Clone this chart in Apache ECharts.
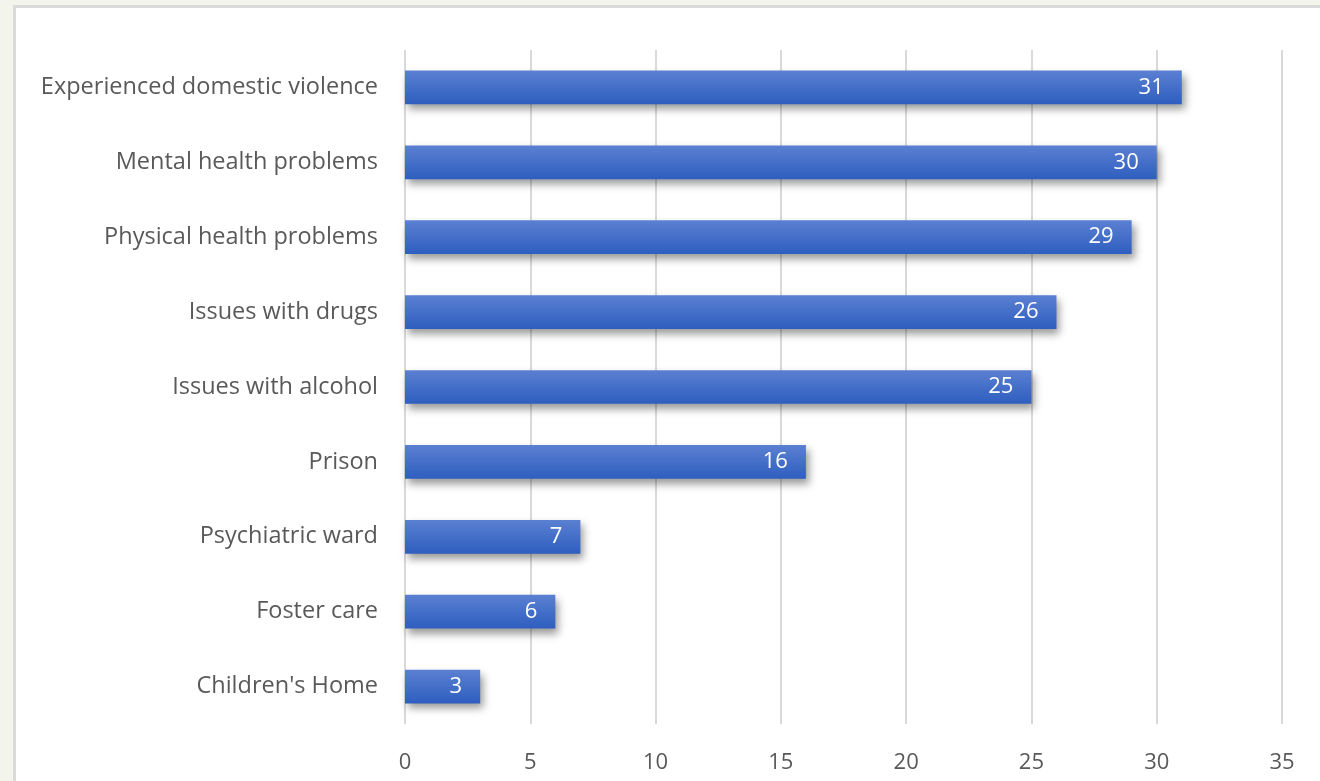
<!DOCTYPE html>
<html>
<head>
<meta charset="utf-8">
<script src="https://cdn.jsdelivr.net/npm/echarts@6/dist/echarts.min.js"></script>
<style>
  html, body { margin: 0; padding: 0; background: #f3f5ec; }
  #panel { position: absolute; left: 13px; top: 5px; width: 1320px; height: 800px;
           background: #fff; border: 3px solid #dadada; box-sizing: border-box; }
  #chart { position: absolute; left: 0; top: 0; width: 1320px; height: 781px; }
</style>
</head>
<body>
<div id="panel"></div>
<div id="chart"></div>
<script>
const categories = [
  "Children's Home", "Foster care", "Psychiatric ward", "Prison",
  "Issues with alcohol", "Issues with drugs", "Physical health problems",
  "Mental health problems", "Experienced domestic violence"
];
const values = [3, 6, 7, 16, 25, 26, 29, 30, 31];
const xTicks = [0, 5, 10, 15, 20, 25, 30, 35];

const chart = echarts.init(document.getElementById("chart"));

const option = {
  animation: false,
  textStyle: { fontFamily: "Open Sans" },
  grid: { left: 405, right: 38, top: 50, bottom: 57 },
  xAxis: {
    type: "value",
    min: xTicks[0],
    max: xTicks[xTicks.length - 1],
    interval: 5,
    axisLine: { show: false },
    axisTick: { show: false },
    splitLine: { lineStyle: { color: "#d9d9d9", width: 2 } },
    axisLabel: { color: "#595959", fontSize: 22, margin: 28 }
  },
  yAxis: {
    type: "category",
    data: categories,
    axisLine: { show: false },
    axisTick: { show: false },
    axisLabel: { color: "#595959", fontSize: 23.5, margin: 27 }
  },
  series: [
    {
      type: "bar",
      data: values,
      barWidth: "45%",
      itemStyle: {
        color: new echarts.graphic.LinearGradient(0, 0, 0, 1, [
          { offset: 0, color: "#5b80d2" },
          { offset: 1, color: "#2e5ebf" }
        ]),
        shadowColor: "rgba(0,0,0,0.4)",
        shadowBlur: 8,
        shadowOffsetX: 3,
        shadowOffsetY: 5
      },
      label: {
        show: true,
        position: "insideRight",
        distance: 18,
        color: "#fff",
        fontSize: 22
      }
    }
  ]
};

chart.setOption(option);
</script>
</body>
</html>
